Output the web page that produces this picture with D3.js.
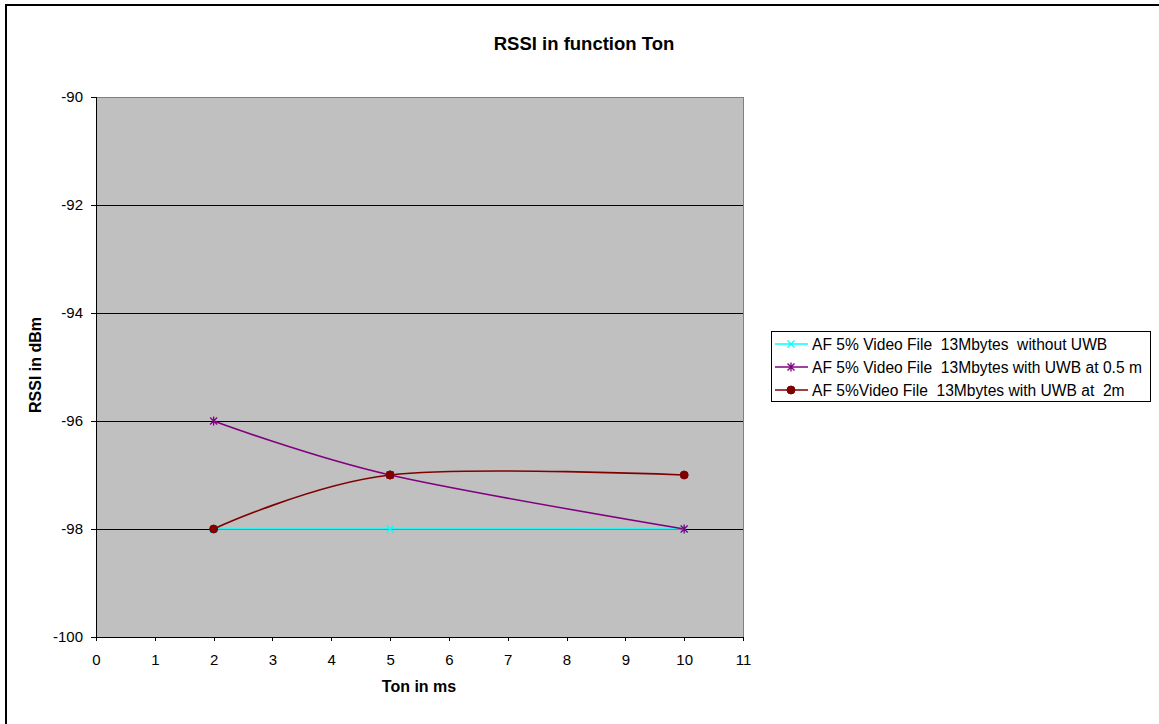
<!DOCTYPE html>
<html><head><meta charset="utf-8">
<script src="https://cdn.jsdelivr.net/npm/d3@7/dist/d3.min.js"></script>
<style>body{margin:0;background:#fff}svg text{font-family:Arial,"Liberation Sans",sans-serif;white-space:pre}</style>
</head><body><svg id="c" width="1159" height="724"></svg>
<script>
const tonValues = [2, 5, 10];
const seriesNames = [
  "AF 5% Video File  13Mbytes  without UWB",
  "AF 5% Video File  13Mbytes with UWB at 0.5 m",
  "AF 5%Video File  13Mbytes with UWB at  2m"
];
const withoutUWB = [-98, -98, -98];
const uwb05m = [-96, -97, -98];
const uwb2m = [-98, -97, -97];
const seriesColors = ["#00FFFF", "#800080", "#800000"];
const markerTypes = ["x", "star", "circle"];
const xTicks = d3.range(0, 12, 1);
const yTicks = [-100, -98, -96, -94, -92, -90];

const svg = d3.select("#c");
// outer border
svg.append("rect").attr("x", 6).attr("y", 5).attr("width", 1170).attr("height", 740)
  .attr("fill", "none").attr("stroke", "#000").attr("stroke-width", 2);

const L = 96, T = 97, R = 743, B = 637;
const x = d3.scaleLinear().domain([0, 11]).range([L, R]);
const y = d3.scaleLinear().domain([-100, -90]).range([B, T]);

svg.append("rect").attr("x", L).attr("y", T).attr("width", R - L).attr("height", B - T)
  .attr("fill", "#C0C0C0");
// gridlines
svg.append("g").selectAll("line").data(yTicks.filter(d => d > -100 && d < -90)).join("line")
  .attr("x1", L).attr("x2", R).attr("y1", d => y(d)).attr("y2", d => y(d))
  .attr("stroke", "#000").attr("stroke-width", 1).attr("shape-rendering", "crispEdges");
svg.append("rect").attr("x", L).attr("y", T).attr("width", R - L).attr("height", B - T)
  .attr("fill", "none").attr("stroke", "#808080").attr("stroke-width", 1).attr("shape-rendering", "crispEdges");

// axes
const xa = svg.append("g").attr("transform", `translate(0,${B})`)
  .call(d3.axisBottom(x).tickValues(xTicks).tickSize(4).tickPadding(13).tickFormat(d3.format("d")));
const ya = svg.append("g").attr("transform", `translate(${L},0)`)
  .call(d3.axisLeft(y).tickValues(yTicks).tickSize(5).tickPadding(8).tickFormat(d => d));
[xa, ya].forEach(a => {
  a.select(".domain").attr("stroke", "#000").attr("shape-rendering", "crispEdges");
  a.selectAll(".tick line").attr("stroke", "#000").attr("shape-rendering", "crispEdges");
  a.selectAll("text").attr("font-size", 15).attr("fill", "#000")
    .style("font-family", "Arial, 'Liberation Sans', sans-serif");
});

// titles
svg.append("text").attr("x", 584).attr("y", 50).attr("text-anchor", "middle")
  .attr("font-size", 18.5).attr("font-weight", "bold").text("RSSI in function Ton");
svg.append("text").attr("x", 419).attr("y", 692).attr("text-anchor", "middle")
  .attr("font-size", 16).attr("font-weight", "bold").text("Ton in ms");
svg.append("text").attr("transform", "translate(41,365) rotate(-90)").attr("text-anchor", "middle")
  .attr("font-size", 16).attr("font-weight", "bold").text("RSSI in dBm");

function drawMarker(g, type, color) {
  if (type === "x") {
    g.append("path").attr("d", "M-3.5,-3.5L3.5,3.5M-3.5,3.5L3.5,-3.5").attr("stroke", color).attr("stroke-width", 1.3).attr("fill", "none");
  } else if (type === "star") {
    g.append("path").attr("d", "M-3.5,-3.5L3.5,3.5M-3.5,3.5L3.5,-3.5M0,-4.5L0,4.5").attr("stroke", color).attr("stroke-width", 1.3).attr("fill", "none");
  } else {
    g.append("circle").attr("r", 4).attr("fill", color).attr("stroke", color);
  }
}

const allSeries = [withoutUWB, uwb05m, uwb2m];
const line = d3.line().x(d => x(d[0])).y(d => y(d[1])).curve(d3.curveCatmullRom.alpha(0));
allSeries.forEach((vals, i) => {
  const pts = tonValues.map((t, j) => [t, vals[j]]);
  svg.append("path").datum(pts).attr("d", line).attr("fill", "none")
    .attr("stroke", seriesColors[i]).attr("stroke-width", 1.6);
});
allSeries.forEach((vals, i) => {
  tonValues.forEach((t, j) => {
    const g = svg.append("g").attr("transform", `translate(${x(t)},${y(vals[j])})`);
    drawMarker(g, markerTypes[i], seriesColors[i]);
  });
});

// legend
const lg = svg.append("g");
lg.append("rect").attr("x", 771.5).attr("y", 331.5).attr("width", 379).attr("height", 70)
  .attr("fill", "#fff").attr("stroke", "#000").attr("stroke-width", 1);
seriesNames.forEach((n, i) => {
  const cy = 344 + i * 23;
  lg.append("line").attr("x1", 775).attr("x2", 808).attr("y1", cy).attr("y2", cy)
    .attr("stroke", seriesColors[i]).attr("stroke-width", 1.6);
  drawMarker(lg.append("g").attr("transform", `translate(791,${cy})`), markerTypes[i], seriesColors[i]);
  lg.append("text").attr("x", 812).attr("y", cy + 5.5).attr("font-size", 15.6).text(n);
});
</script></body></html>
